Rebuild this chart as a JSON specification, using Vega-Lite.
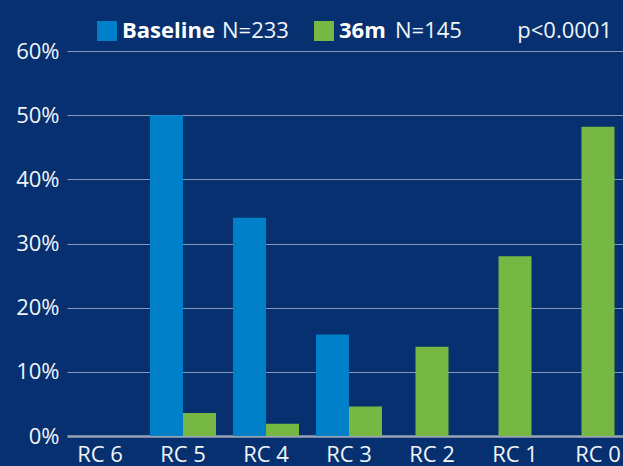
{
  "$schema": "https://vega.github.io/schema/vega-lite/v6.json",
  "width": 550,
  "height": 385,
  "autosize": {"type": "none"},
  "padding": {"left": 73, "top": 51, "right": 0, "bottom": 30},
  "background": "#06306f",
  "title": {"text": "p<0.0001", "anchor": "end", "frame": "group", "orient": "top", "offset": 9, "dx": -11, "dy": 32, "font": "Open Sans", "fontSize": 22, "fontWeight": "normal", "color": "#f2f5f9"},
  "config": {"view": {"stroke": null}, "font": "Open Sans"},
  "data": {"values": [
    {"rc": "RC 5", "series": "Baseline", "sample": "N=233", "share": 0.50},
    {"rc": "RC 4", "series": "Baseline", "sample": "N=233", "share": 0.34},
    {"rc": "RC 3", "series": "Baseline", "sample": "N=233", "share": 0.158},
    {"rc": "RC 5", "series": "36m", "sample": "N=145", "share": 0.036},
    {"rc": "RC 4", "series": "36m", "sample": "N=145", "share": 0.019},
    {"rc": "RC 3", "series": "36m", "sample": "N=145", "share": 0.046},
    {"rc": "RC 2", "series": "36m", "sample": "N=145", "share": 0.139},
    {"rc": "RC 1", "series": "36m", "sample": "N=145", "share": 0.28},
    {"rc": "RC 0", "series": "36m", "sample": "N=145", "share": 0.482}
  ]},
  "transform": [{"joinaggregate": [{"op": "count", "as": "nbars"}], "groupby": ["rc"]}],
  "encoding": {
    "x": {"field": "rc", "type": "nominal", "sort": null,
      "scale": {"domain": ["RC 6", "RC 5", "RC 4", "RC 3", "RC 2", "RC 1", "RC 0"], "paddingInner": 0.2048, "paddingOuter": 0, "range": [-6, 558]},
      "axis": {"title": null, "labelAngle": 0, "domain": false, "ticks": false, "grid": false, "labelPadding": 8, "labelFontSize": 22, "labelColor": "#f2f5f9", "labelFont": "Open Sans"}},
    "y": {"field": "share", "type": "quantitative",
      "scale": {"domain": [0, 0.6], "nice": false},
      "axis": {"title": null, "format": ".0%", "values": [0, 0.1, 0.2, 0.3, 0.4, 0.5, 0.6], "domain": false, "ticks": false, "labelPadding": 14, "labelFontSize": 22, "labelColor": "#f2f5f9", "labelFont": "Open Sans",
        "gridColor": {"condition": {"test": "datum.value === 0", "value": "#9aa3b4"}, "value": "#8797b8"},
        "gridWidth": {"condition": {"test": "datum.value === 0", "value": 2.5}, "value": 1.2}}},
    "color": {"field": "series", "type": "nominal",
      "scale": {"domain": ["Baseline", "36m"], "range": ["#0080c8", "#76b843"]},
      "legend": {"orient": "none", "legendX": 23, "legendY": -31, "direction": "horizontal", "title": null, "symbolType": "square", "symbolSize": 400, "symbolStrokeWidth": 0, "symbolOpacity": 1, "labelFontSize": 22, "labelFontWeight": "bold", "labelFont": "Open Sans", "labelColor": "#ffffff", "labelOffset": 4, "columnPadding": 98, "padding": 0}},
    "opacity": {"field": "sample", "type": "nominal",
      "scale": {"domain": ["N=233", "N=145"], "range": [1, 1]},
      "legend": {"orient": "none", "legendX": 127, "legendY": -31, "direction": "horizontal", "title": null, "symbolType": "square", "symbolSize": 0, "symbolOpacity": 0, "labelFontSize": 22, "labelFontWeight": "normal", "labelFont": "Open Sans", "labelColor": "#f2f5f9", "labelOffset": 0, "columnPadding": 84, "padding": 0}}
  },
  "layer": [
    {"transform": [{"filter": "datum.nbars === 2"}],
     "mark": {"type": "bar"},
     "encoding": {"xOffset": {"field": "series", "type": "nominal", "scale": {"domain": ["Baseline", "36m"]}}}},
    {"transform": [{"filter": "datum.nbars === 1"}],
     "mark": {"type": "bar", "width": {"band": 0.5}}}
  ]
}
